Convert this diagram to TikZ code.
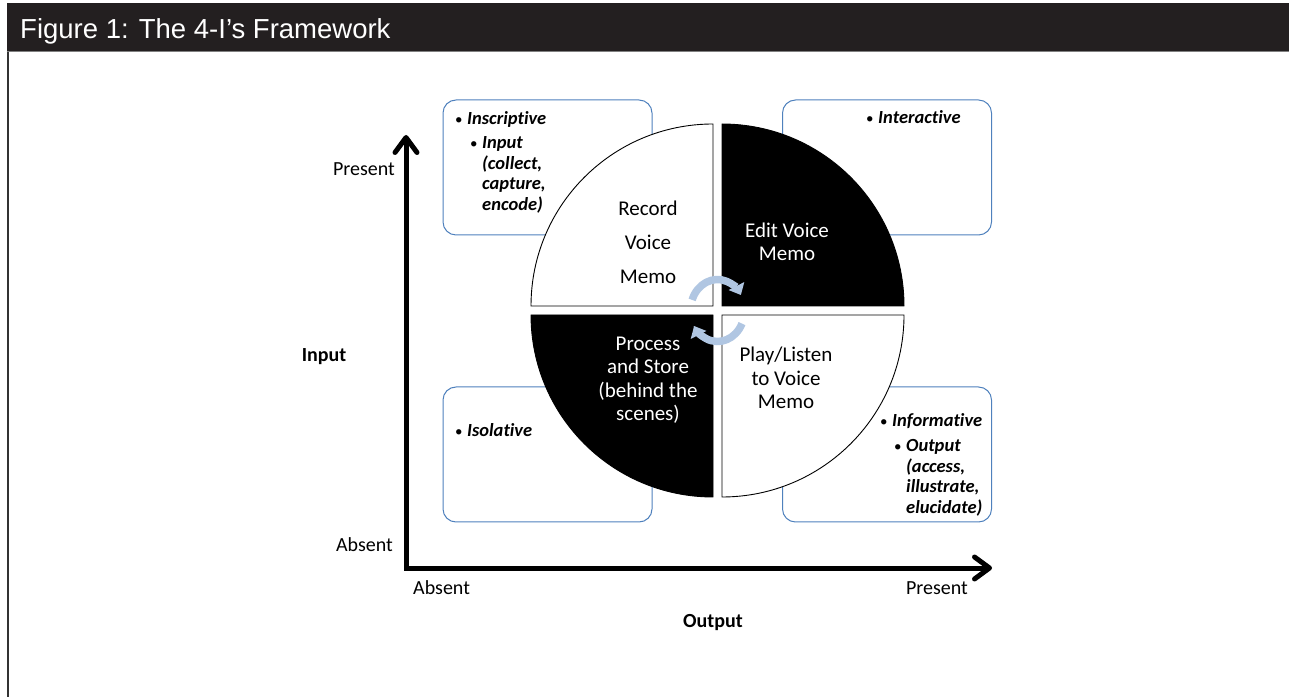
\documentclass[tikz,border=0pt]{standalone}
\usepackage{fontspec}
\setmainfont{Carlito}[Ligatures=NoCommon]
\newfontfamily\headfont{Liberation Sans}
\usetikzlibrary{arrows.meta,calc}

\definecolor{headbar}{RGB}{35,31,32}
\definecolor{boxblue}{RGB}{79,129,189}
\definecolor{cyclblue}{RGB}{176,198,226}

\newcommand{\bul}{\makebox[12pt][l]{\normalfont\fontsize{15}{18}\selectfont\textbullet}}

\begin{document}
\begin{tikzpicture}[x=1pt, y=1pt,
    quarter/.style={draw=black, line width=0.9pt},
    ibox/.style={draw=boxblue, line width=1pt, rounded corners=13pt, minimum width=209pt, minimum height=135pt, fill=white},
    boxtext/.style={anchor=base west, inner sep=0pt, font=\fontsize{18.5}{20.5}\selectfont\bfseries\itshape, align=left},
    qtext/.style={align=center, inner sep=0pt, font=\fontsize{21}{23.5}\selectfont},
    axlabel/.style={font=\fontsize{20}{24}\selectfont, inner sep=0pt},
    axis/.style={line width=5pt, {Straight Barb[length=15pt,width=22pt,round]}-{Straight Barb[length=15pt,width=22pt,round]}},
    cycarrow/.style={cyclblue, line width=7.5pt, -{Triangle[width=17pt,length=10pt]}}
]
\useasboundingbox (0,0) rectangle (1289,696);

% Frame and title bar
\draw[gray!40!black, line width=1.5pt] (8,-2) -- (8,644);
\fill[headbar] (6.5,644) rectangle (1289,693);
\draw[gray, line width=1pt] (6.5,644) -- (1289,644);
\node[anchor=base west, text=white, inner sep=0pt, font=\headfont\fontsize{27.5}{32}\selectfont] (title) at (20,657) {Figure 1: The 4-I’s Framework};

% Outer boxes
\node[ibox] (inscr) at (547.5,528.5) {};
\node[ibox] (inter) at (887,528.5) {};
\node[ibox] (isol) at (547.5,241.5) {};
\node[ibox] (inform) at (887,241.5) {};

\node[boxtext] (inscrA) at (455,571) {\bul Inscriptive};
\node[boxtext] (inscrB) at (470,547) {\bul\begin{tabular}[t]{@{}l@{}}Input\\(collect,\\capture,\\encode)\end{tabular}};
\node[boxtext] (interA) at (866,572) {\bul Interactive};
\node[boxtext] (isolA) at (455,259) {\bul Isolative};
\node[boxtext] (informA) at (880,269) {\bul Informative};
\node[boxtext] (informB) at (894,244) {\bul\begin{tabular}[t]{@{}l@{}}Output\\(access,\\illustrate,\\elucidate)\end{tabular}};

% Quarter circles
\coordinate (mid) at (717.5,385.5);
\coordinate (cTL) at ($(mid)+(-4.5,4.5)$);
\coordinate (cTR) at ($(mid)+(4.5,4.5)$);
\coordinate (cBL) at ($(mid)+(-4.5,-4.5)$);
\coordinate (cBR) at ($(mid)+(4.5,-4.5)$);
\draw[quarter, fill=white] (cTL) -- ++(-182,0) arc[start angle=180, end angle=90, radius=182pt] -- cycle;
\draw[quarter, fill=black] (cTR) -- ++(0,182) arc[start angle=90, end angle=0, radius=182pt] -- cycle;
\draw[quarter, fill=black] (cBL) -- ++(0,-182) arc[start angle=270, end angle=180, radius=182pt] -- cycle;
\draw[quarter, fill=white] (cBR) -- ++(182,0) arc[start angle=0, end angle=-90, radius=182pt] -- cycle;

\node[qtext, font=\fontsize{21}{34}\selectfont] (record) at (648,454) {Record\\Voice\\Memo};
\node[qtext, text=white] (edit) at (787,454) {Edit Voice\\Memo};
\node[qtext, text=white] (process) at (648,316) {Process\\and Store\\(behind the\\scenes)};
\node[qtext] (play) at (786,318) {Play/Listen\\to Voice\\Memo};

% Axes
\coordinate (origin) at (406,128);
\coordinate (ytip) at (406,561);
\coordinate (xtip) at (992,128);
\draw[axis] (ytip) -- (origin) -- (xtip);

\node[axlabel, anchor=base east] (ypres) at (395,520) {Present};
\node[axlabel, anchor=base east] (yabs) at (393,145) {Absent};
\node[axlabel, anchor=base west] (xabs) at (413,102) {Absent};
\node[axlabel, anchor=base east] (xpres) at (968,102) {Present};
\node[axlabel, anchor=base, font=\fontsize{20}{24}\selectfont\bfseries] (inlab) at (324,334) {Input};
\node[axlabel, anchor=base, font=\fontsize{20}{24}\selectfont\bfseries] (outlab) at (713,69) {Output};

% Cycle arrows
\draw[cycarrow] ($(mid)+(160:27pt and 31pt)$) arc[start angle=160, end angle=30, x radius=27pt, y radius=31pt];
\draw[cycarrow] ($(mid)+(-25:27pt and 31pt)$) arc[start angle=-25, end angle=-150, x radius=27pt, y radius=31pt];

\end{tikzpicture}
\end{document}
